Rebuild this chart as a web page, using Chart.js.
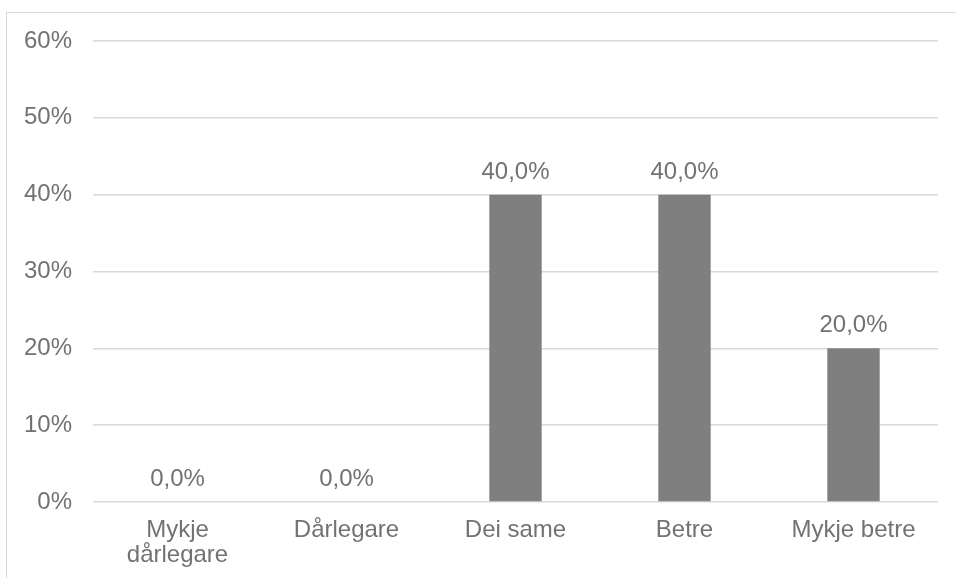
<!DOCTYPE html>
<html>
<head>
<meta charset="utf-8">
<script src="https://cdn.jsdelivr.net/npm/chart.js@4/dist/chart.umd.min.js"></script>
<style>
    html, body { margin: 0; padding: 0; background: #fff; }
    #wrap { position: relative; width: 956px; height: 578px; }
    #frame {
        position: absolute; left: 6px; top: 12px; width: 950px; height: 566px;
        border-top: 1px solid #d9d9d9; border-left: 1px solid #d9d9d9;
        box-sizing: border-box; pointer-events: none;
    }
</style>
</head>
<body>
<div id="wrap">
    <canvas id="chart" width="956" height="578"></canvas>
    <div id="frame"></div>
</div>
<script>
// Chart data
const categories = [['Mykje', 'dårlegare'], 'Dårlegare', 'Dei same', 'Betre', 'Mykje betre'];
const shares = [0, 0, 40, 40, 20];
const yTicks = [0, 10, 20, 30, 40, 50, 60];

const textColor = '#767171';
const fontFamily = '"Liberation Sans", Arial, sans-serif';

// Value labels above the bars, e.g. "40,0%"
const barLabels = {
    id: 'barLabels',
    afterDatasetsDraw(chart) {
        const ctx = chart.ctx;
        const meta = chart.getDatasetMeta(0);
        ctx.save();
        ctx.font = `24px ${fontFamily}`;
        ctx.fillStyle = textColor;
        ctx.textAlign = 'center';
        ctx.textBaseline = 'alphabetic';
        meta.data.forEach((bar, i) => {
            const txt = shares[i].toFixed(1).replace('.', ',') + '%';
            ctx.fillText(txt, bar.x, bar.y - 16);
        });
        ctx.restore();
    }
};

new Chart(document.getElementById('chart'), {
    type: 'bar',
    data: {
        labels: categories,
        datasets: [{
            data: shares,
            backgroundColor: '#7f7f7f',
            borderWidth: 0,
            barPercentage: 1,
            categoryPercentage: 0.31
        }]
    },
    options: {
        responsive: false,
        animation: false,
        devicePixelRatio: 1,
        layout: { padding: { top: 41, right: 18, bottom: 0, left: 0 } },
        plugins: {
            legend: { display: false },
            tooltip: { enabled: false }
        },
        scales: {
            x: {
                grid: { display: false },
                border: { display: false },
                ticks: {
                    color: textColor,
                    font: { family: fontFamily, size: 24, lineHeight: 1.05 },
                    padding: 8,
                    maxRotation: 0,
                    autoSkip: false
                },
                afterFit: (scale) => { scale.height = 76; }
            },
            y: {
                min: yTicks[0],
                max: yTicks[yTicks.length - 1],
                afterBuildTicks: (scale) => { scale.ticks = yTicks.map(v => ({ value: v })); },
                grid: { color: '#d9d9d9', lineWidth: 1.5, drawTicks: false },
                border: { display: false },
                ticks: {
                    color: textColor,
                    font: { family: fontFamily, size: 24 },
                    padding: 21,
                    callback: (v) => v + '%'
                },
                afterFit: (scale) => { scale.width = 93; }
            }
        }
    },
    plugins: [barLabels]
});
</script>
</body>
</html>
